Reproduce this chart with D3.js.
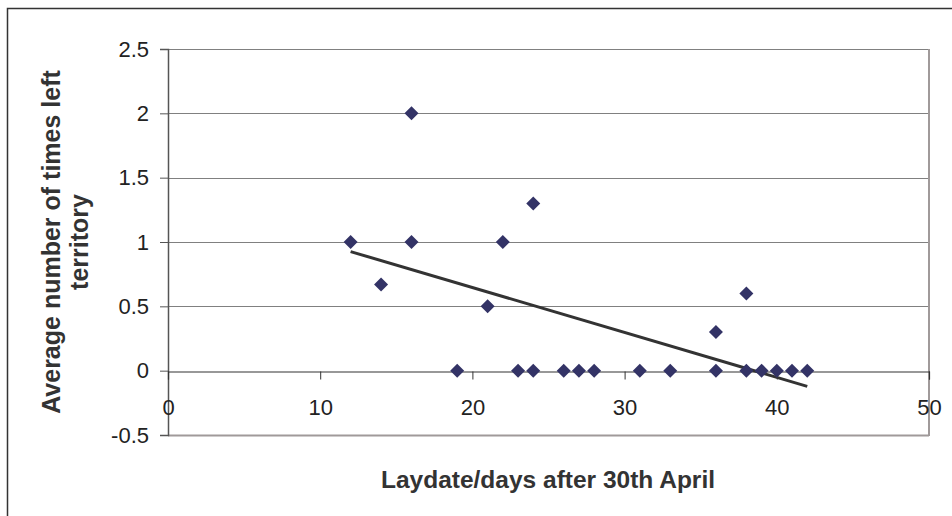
<!DOCTYPE html>
<html>
<head>
<meta charset="utf-8">
<script src="https://cdn.jsdelivr.net/npm/d3@7"></script>
<style>
  body { margin: 0; background: #fff; }
  svg { display: block; font-family: "Liberation Sans", Arial, sans-serif; }
</style>
</head>
<body>
<div id="chart"></div>
<script>
// laydate (days after 30th April) and average number of times left territory
const laydates = [12, 14, 16, 16, 19, 21, 22, 23, 24, 24, 26, 27, 28, 31, 33, 36, 36, 38, 38, 39, 40, 41, 42];
const timesLeft = [1, 0.67, 2, 1, 0, 0.5, 1, 0, 1.3, 0, 0, 0, 0, 0, 0, 0.3, 0, 0.6, 0, 0, 0, 0, 0];
const xTicks = [0, 10, 20, 30, 40, 50];
const yTicks = [-0.5, 0, 0.5, 1, 1.5, 2, 2.5];

const width = 952, height = 516;
const plot = { left: 168, right: 929, top: 49, bottom: 435 };

const svg = d3.select("#chart").append("svg")
    .attr("width", width)
    .attr("height", height);

// outer chart frame (only top and left show in the picture)
svg.append("path")
    .attr("d", `M7.5,${height + 5}V8.5H${width + 5}`)
    .attr("fill", "none")
    .attr("stroke", "#333")
    .attr("stroke-width", 1.5);

const x = d3.scaleLinear().domain([0, 50]).range([plot.left, plot.right]);
const y = d3.scaleLinear().domain([-0.5, 2.5]).range([plot.bottom, plot.top]);

// gridlines
svg.append("g")
    .selectAll("line")
    .data(yTicks.filter(d => d !== 0))
    .enter()
    .append("line")
    .attr("x1", plot.left)
    .attr("x2", plot.right)
    .attr("y1", d => Math.round(y(d)) + 0.5)
    .attr("y2", d => Math.round(y(d)) + 0.5)
    .attr("stroke", d => d === -0.5 ? "#a09a9a" : "#808080")
    .attr("stroke-width", d => d === -0.5 ? 2 : 1.2);

// right border of plot area
svg.append("line")
    .attr("x1", plot.right).attr("x2", plot.right)
    .attr("y1", plot.top).attr("y2", plot.bottom + 1)
    .attr("stroke", "#a09a9a")
    .attr("stroke-width", 2);

// y axis
const yAxis = d3.axisLeft(y).tickValues(yTicks).tickSize(8).tickPadding(11)
    .tickFormat(d => String(d));
const gy = svg.append("g")
    .attr("transform", `translate(${plot.left},0)`)
    .call(yAxis);
gy.attr("font-size", null).attr("font-family", null);
gy.select(".domain").attr("stroke", "#555").attr("stroke-width", 1.5);
gy.selectAll(".tick line").attr("stroke", "#555");
gy.selectAll("text").style("font-size", "22px").attr("fill", "#222");

// x axis sits on y = 0
const xAxis = d3.axisBottom(x).tickValues(xTicks).tickSize(8).tickPadding(20)
    .tickFormat(d => String(d));
const gx = svg.append("g")
    .attr("transform", `translate(0,${Math.round(y(0)) + 0.5})`)
    .call(xAxis);
gx.attr("font-size", null).attr("font-family", null);
gx.select(".domain").attr("stroke", "#333").attr("stroke-width", 1.2);
gx.selectAll(".tick line").attr("stroke", "#333");
gx.selectAll("text").style("font-size", "22px").attr("fill", "#222");

// linear trendline (least squares fit of the points)
const n = laydates.length;
const mx = d3.mean(laydates), my = d3.mean(timesLeft);
let sxy = 0, sxx = 0;
for (let i = 0; i < n; i++) {
    sxy += (laydates[i] - mx) * (timesLeft[i] - my);
    sxx += (laydates[i] - mx) ** 2;
}
const slope = sxy / sxx, intercept = my - slope * mx;
const xExt = d3.extent(laydates);
svg.append("line")
    .attr("x1", x(xExt[0])).attr("y1", y(intercept + slope * xExt[0]))
    .attr("x2", x(xExt[1])).attr("y2", y(intercept + slope * xExt[1]))
    .attr("stroke", "#333")
    .attr("stroke-width", 3);

// diamond markers
const diamond = "M0,-7L7,0L0,7L-7,0Z";
svg.append("g")
    .selectAll("path")
    .data(laydates.map((d, i) => [d, timesLeft[i]]))
    .enter()
    .append("path")
    .attr("d", diamond)
    .attr("transform", d => `translate(${x(d[0])},${y(d[1])})`)
    .attr("fill", "#333366");

// axis titles
svg.append("text")
    .attr("x", 548)
    .attr("y", 488)
    .attr("text-anchor", "middle")
    .style("font-size", "24.5px")
    .attr("font-weight", "bold")
    .attr("fill", "#333")
    .text("Laydate/days after 30th April");

const yTitle = svg.append("text")
    .attr("transform", `translate(0,242) rotate(-90)`)
    .attr("text-anchor", "middle")
    .style("font-size", "25px")
    .attr("font-weight", "bold")
    .attr("fill", "#333");
yTitle.append("tspan").attr("x", 0).attr("y", 60).text("Average number of times left");
yTitle.append("tspan").attr("x", 0).attr("y", 88).text("territory");
</script>
</body>
</html>
